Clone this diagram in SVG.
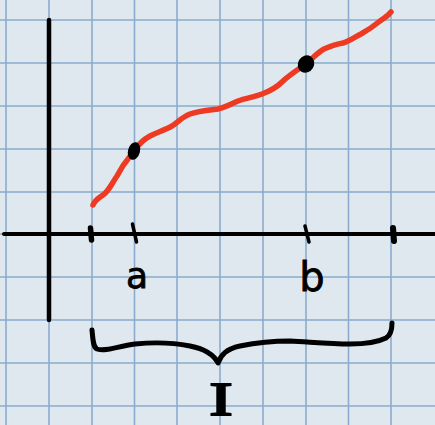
<svg xmlns="http://www.w3.org/2000/svg" width="435" height="425" viewBox="0 0 435 425">
  <style>
    .grid line { stroke: #8aabcd; stroke-width: 1.6; }
    .ink { fill: none; stroke: #000; stroke-linecap: round; stroke-linejoin: round; }
    .lbl { font-family: "DejaVu Sans", "Liberation Sans", sans-serif; fill: #000; stroke: #000; stroke-width: 0.8; }
  </style>
  <rect width="435" height="425" fill="#dfe8ef"/>
  <g id="grid" class="grid">
    <line x1="6" y1="0" x2="6" y2="425"/>
    <line x1="49" y1="0" x2="49" y2="425"/>
    <line x1="92" y1="0" x2="92" y2="425"/>
    <line x1="134.5" y1="0" x2="134.5" y2="425"/>
    <line x1="177" y1="0" x2="177" y2="425"/>
    <line x1="220" y1="0" x2="220" y2="425"/>
    <line x1="263" y1="0" x2="263" y2="425"/>
    <line x1="306" y1="0" x2="306" y2="425"/>
    <line x1="348.5" y1="0" x2="348.5" y2="425"/>
    <line x1="391" y1="0" x2="391" y2="425"/>
    <line x1="0" y1="20" x2="435" y2="20"/>
    <line x1="0" y1="63" x2="435" y2="63"/>
    <line x1="0" y1="106" x2="435" y2="106"/>
    <line x1="0" y1="149" x2="435" y2="149"/>
    <line x1="0" y1="192" x2="435" y2="192"/>
    <line x1="0" y1="234" x2="435" y2="234"/>
    <line x1="0" y1="277" x2="435" y2="277"/>
    <line x1="0" y1="320" x2="435" y2="320"/>
    <line x1="0" y1="363" x2="435" y2="363"/>
    <line x1="0" y1="406" x2="435" y2="406"/>
  </g>
  <g id="axes">
    <line class="ink" x1="49" y1="20" x2="49" y2="320" stroke-width="4.5" stroke-linecap="butt"/>
    <line class="ink" x1="4" y1="234" x2="435" y2="234" stroke-width="4"/>
  </g>
  <g id="ticks">
    <line class="ink" x1="90.5" y1="228" x2="91.5" y2="240" stroke-width="5.5"/>
    <line class="ink" x1="132.5" y1="224" x2="136.5" y2="242" stroke-width="3.5"/>
    <line class="ink" x1="305" y1="226" x2="309" y2="242" stroke-width="3.5"/>
    <line class="ink" x1="393" y1="228" x2="394" y2="241" stroke-width="6"/>
  </g>
  <g id="curve">
    <path d="M93,205 C95,200 99,198 103,195 C109,191 112,183 117,176 C121,168 126,161 131,155 C137,146 142,140 150,136 C158,132 165,130 172,126 C178,122 182,117 190,114 C198,111 210,110 218,109 C226,107 231,104 238,101 C246,98 255,97 262,94 C270,91 276,88 282,82 C288,76 297,70 306,64 C313,58 318,52 324,49 C331,46 337,44 343,43 C350,41 355,37 361,34 C368,30 374,26 380,21 C384,18 387,17 391,12" fill="none" stroke="#ee3a22" stroke-width="5.5" stroke-linecap="round" stroke-linejoin="round"/>
  </g>
  <g id="point-a">
    <ellipse cx="134" cy="151" rx="6" ry="9" transform="rotate(15 134 151)" fill="#000"/>
  </g>
  <g id="point-b">
    <ellipse cx="306" cy="64" rx="8" ry="9" transform="rotate(30 306 64)" fill="#000"/>
  </g>
  <g id="label-a">
    <text class="lbl" x="137" y="288" font-size="36" text-anchor="middle">a</text>
  </g>
  <g id="label-b">
    <text class="lbl" x="312" y="291" font-size="40" text-anchor="middle">b</text>
  </g>
  <g id="brace">
    <path class="ink" stroke-width="5" d="M92,330 C93,340 93,347 97,349 C106,352 118,346 135,344 C155,342 175,343 190,346 C205,349 214,355 218,363 C221,355 226,349 240,346 C255,343 270,341 290,341 C310,342 330,344 350,344 C365,344 378,342 386,338 C391,335 392,330 392,323"/>
  </g>
  <g id="label-I">
    <text x="0" y="415" transform="translate(221 0) scale(1.5 1)" font-family="'Liberation Serif', serif" font-size="46" text-anchor="middle" fill="#000" stroke="#000" stroke-width="2">I</text>
  </g>
</svg>
